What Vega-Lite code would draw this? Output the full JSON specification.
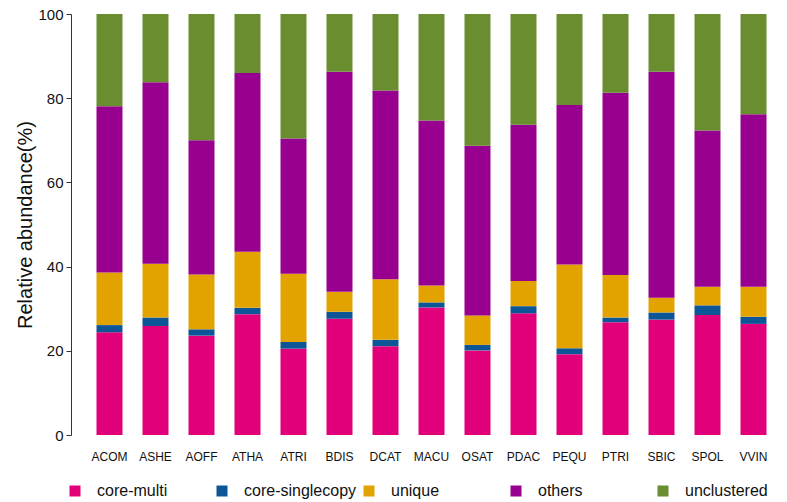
{
  "$schema": "https://vega.github.io/schema/vega-lite/v6.json",
  "autosize": {"type": "none"},
  "padding": {"left": 85, "top": 14, "right": 9, "bottom": 67},
  "width": 693,
  "height": 421,
  "background": "white",
  "config": {
    "view": {"stroke": null},
    "font": "Liberation Sans",
    "axis": {"grid": false, "labelFont": "Liberation Sans", "titleFont": "Liberation Sans"}
  },
  "data": {
    "values": [
      {"species": "ACOM", "type": "core-multi", "k": 1, "value": 24.4},
      {"species": "ACOM", "type": "core-singlecopy", "k": 2, "value": 1.7},
      {"species": "ACOM", "type": "unique", "k": 3, "value": 12.5},
      {"species": "ACOM", "type": "others", "k": 4, "value": 39.5},
      {"species": "ACOM", "type": "unclustered", "k": 5, "value": 21.9},
      {"species": "ASHE", "type": "core-multi", "k": 1, "value": 25.9},
      {"species": "ASHE", "type": "core-singlecopy", "k": 2, "value": 2.0},
      {"species": "ASHE", "type": "unique", "k": 3, "value": 12.8},
      {"species": "ASHE", "type": "others", "k": 4, "value": 43.1},
      {"species": "ASHE", "type": "unclustered", "k": 5, "value": 16.2},
      {"species": "AOFF", "type": "core-multi", "k": 1, "value": 23.6},
      {"species": "AOFF", "type": "core-singlecopy", "k": 2, "value": 1.5},
      {"species": "AOFF", "type": "unique", "k": 3, "value": 13.0},
      {"species": "AOFF", "type": "others", "k": 4, "value": 31.9},
      {"species": "AOFF", "type": "unclustered", "k": 5, "value": 30.0},
      {"species": "ATHA", "type": "core-multi", "k": 1, "value": 28.7},
      {"species": "ATHA", "type": "core-singlecopy", "k": 2, "value": 1.5},
      {"species": "ATHA", "type": "unique", "k": 3, "value": 13.3},
      {"species": "ATHA", "type": "others", "k": 4, "value": 42.5},
      {"species": "ATHA", "type": "unclustered", "k": 5, "value": 14.0},
      {"species": "ATRI", "type": "core-multi", "k": 1, "value": 20.5},
      {"species": "ATRI", "type": "core-singlecopy", "k": 2, "value": 1.6},
      {"species": "ATRI", "type": "unique", "k": 3, "value": 16.2},
      {"species": "ATRI", "type": "others", "k": 4, "value": 32.1},
      {"species": "ATRI", "type": "unclustered", "k": 5, "value": 29.6},
      {"species": "BDIS", "type": "core-multi", "k": 1, "value": 27.6},
      {"species": "BDIS", "type": "core-singlecopy", "k": 2, "value": 1.7},
      {"species": "BDIS", "type": "unique", "k": 3, "value": 4.7},
      {"species": "BDIS", "type": "others", "k": 4, "value": 52.3},
      {"species": "BDIS", "type": "unclustered", "k": 5, "value": 13.7},
      {"species": "DCAT", "type": "core-multi", "k": 1, "value": 21.1},
      {"species": "DCAT", "type": "core-singlecopy", "k": 2, "value": 1.5},
      {"species": "DCAT", "type": "unique", "k": 3, "value": 14.4},
      {"species": "DCAT", "type": "others", "k": 4, "value": 44.8},
      {"species": "DCAT", "type": "unclustered", "k": 5, "value": 18.2},
      {"species": "MACU", "type": "core-multi", "k": 1, "value": 30.3},
      {"species": "MACU", "type": "core-singlecopy", "k": 2, "value": 1.2},
      {"species": "MACU", "type": "unique", "k": 3, "value": 4.0},
      {"species": "MACU", "type": "others", "k": 4, "value": 39.2},
      {"species": "MACU", "type": "unclustered", "k": 5, "value": 25.3},
      {"species": "OSAT", "type": "core-multi", "k": 1, "value": 20.1},
      {"species": "OSAT", "type": "core-singlecopy", "k": 2, "value": 1.3},
      {"species": "OSAT", "type": "unique", "k": 3, "value": 7.0},
      {"species": "OSAT", "type": "others", "k": 4, "value": 40.3},
      {"species": "OSAT", "type": "unclustered", "k": 5, "value": 31.3},
      {"species": "PDAC", "type": "core-multi", "k": 1, "value": 28.9},
      {"species": "PDAC", "type": "core-singlecopy", "k": 2, "value": 1.7},
      {"species": "PDAC", "type": "unique", "k": 3, "value": 6.0},
      {"species": "PDAC", "type": "others", "k": 4, "value": 37.1},
      {"species": "PDAC", "type": "unclustered", "k": 5, "value": 26.3},
      {"species": "PEQU", "type": "core-multi", "k": 1, "value": 19.2},
      {"species": "PEQU", "type": "core-singlecopy", "k": 2, "value": 1.4},
      {"species": "PEQU", "type": "unique", "k": 3, "value": 19.9},
      {"species": "PEQU", "type": "others", "k": 4, "value": 37.9},
      {"species": "PEQU", "type": "unclustered", "k": 5, "value": 21.6},
      {"species": "PTRI", "type": "core-multi", "k": 1, "value": 26.8},
      {"species": "PTRI", "type": "core-singlecopy", "k": 2, "value": 1.1},
      {"species": "PTRI", "type": "unique", "k": 3, "value": 10.1},
      {"species": "PTRI", "type": "others", "k": 4, "value": 43.3},
      {"species": "PTRI", "type": "unclustered", "k": 5, "value": 18.7},
      {"species": "SBIC", "type": "core-multi", "k": 1, "value": 27.4},
      {"species": "SBIC", "type": "core-singlecopy", "k": 2, "value": 1.7},
      {"species": "SBIC", "type": "unique", "k": 3, "value": 3.5},
      {"species": "SBIC", "type": "others", "k": 4, "value": 53.7},
      {"species": "SBIC", "type": "unclustered", "k": 5, "value": 13.7},
      {"species": "SPOL", "type": "core-multi", "k": 1, "value": 28.5},
      {"species": "SPOL", "type": "core-singlecopy", "k": 2, "value": 2.3},
      {"species": "SPOL", "type": "unique", "k": 3, "value": 4.4},
      {"species": "SPOL", "type": "others", "k": 4, "value": 37.1},
      {"species": "SPOL", "type": "unclustered", "k": 5, "value": 27.7},
      {"species": "VVIN", "type": "core-multi", "k": 1, "value": 26.4},
      {"species": "VVIN", "type": "core-singlecopy", "k": 2, "value": 1.7},
      {"species": "VVIN", "type": "unique", "k": 3, "value": 7.1},
      {"species": "VVIN", "type": "others", "k": 4, "value": 41.0},
      {"species": "VVIN", "type": "unclustered", "k": 5, "value": 23.8}
    ]
  },
  "mark": {"type": "bar"},
  "encoding": {
    "x": {
      "field": "species",
      "type": "nominal",
      "sort": null,
      "scale": {"paddingInner": 0.435, "paddingOuter": 0.25},
      "axis": {
        "title": null,
        "domain": false,
        "ticks": false,
        "labelAngle": 0,
        "labelFontSize": 12,
        "labelColor": "#111111",
        "labelPadding": 16
      }
    },
    "y": {
      "field": "value",
      "type": "quantitative",
      "stack": "zero",
      "scale": {"domain": [0, 100], "nice": false, "zero": true},
      "axis": {
        "title": "Relative abundance(%)",
        "titleFontSize": 20,
        "titleFontWeight": "normal",
        "titleColor": "#111111",
        "titlePadding": 2,
        "values": [0, 20, 40, 60, 80, 100],
        "offset": 14,
        "domain": true,
        "domainColor": "#333333",
        "domainWidth": 1,
        "tickColor": "#333333",
        "tickSize": 5,
        "labelFontSize": 15,
        "labelColor": "#111111",
        "labelPadding": 3
      }
    },
    "color": {
      "field": "type",
      "type": "nominal",
      "scale": {
        "domain": ["core-multi", "core-singlecopy", "unique", "others", "unclustered"],
        "range": ["#E2007A", "#0C5698", "#E2A300", "#98008F", "#698D2F"]
      },
      "legend": {
        "title": null,
        "orient": "none",
        "legendX": -18,
        "legendY": 469,
        "direction": "horizontal",
        "columns": 5,
        "gridAlign": "all",
        "columnPadding": 4,
        "symbolType": "square",
        "symbolSize": 121,
        "symbolStrokeWidth": 0,
        "labelFontSize": 16,
        "labelColor": "#111111",
        "labelOffset": 14,
        "labelLimit": 300
      }
    },
    "order": {"field": "k", "type": "quantitative", "sort": "ascending"}
  }
}
